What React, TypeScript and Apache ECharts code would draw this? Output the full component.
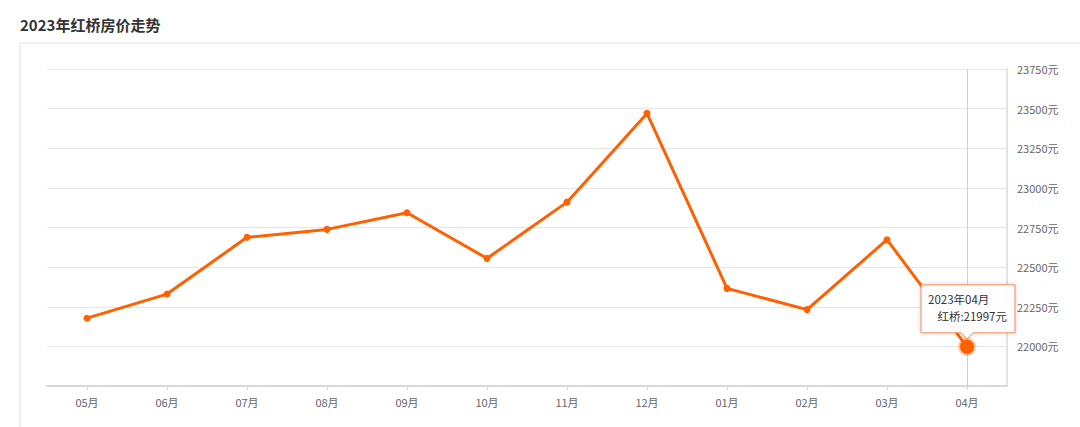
import React, { useEffect, useRef } from "react";
import * as echarts from "echarts";

const titleText = "2023年红桥房价走势";
const seriesName = "红桥";
const year = "2023";
const months = ["05月", "06月", "07月", "08月", "09月", "10月", "11月", "12月", "01月", "02月", "03月", "04月"];
const prices = [22178, 22330, 22688, 22738, 22843, 22555, 22910, 23470, 22366, 22232, 22673, 21997];
const yMin = 21750;
const yMax = 23750;
const yInterval = 250;
const unit = "元";
const highlightIndex = 11;

const ORANGE = "#ff6000";
const FONT = "'Noto Sans CJK SC', 'Noto Sans', sans-serif";

export default function App() {
  const ref = useRef<HTMLDivElement>(null);
  useEffect(() => {
    if (!ref.current) return;
    const chart = echarts.init(ref.current, null, { renderer: "svg" });
    const data = prices.map((v, i) =>
      i === highlightIndex
        ? {
            value: v,
            symbolSize: 14,
            itemStyle: { color: ORANGE, borderColor: "rgba(255,96,0,0.35)", borderWidth: 4 },
          }
        : v
    );
    chart.setOption({
      animation: false,
      textStyle: { fontFamily: FONT },
      title: {
        text: titleText,
        left: 15,
        top: 12,
        textStyle: { fontSize: 15, fontWeight: "bold", color: "#333", fontFamily: FONT },
      },
      grid: { left: 47, right: 73, top: 69, bottom: 41, containLabel: false },
      xAxis: {
        type: "category",
        data: months,
        boundaryGap: true,
        axisLine: { show: true, lineStyle: { color: "#d9d9d9", width: 2 } },
        axisTick: { show: true, alignWithLabel: true, length: 4, lineStyle: { color: "#d9d9d9" } },
        axisLabel: { color: "#666", fontSize: 11, margin: 10, fontFamily: FONT },
        splitLine: { show: false },
      },
      yAxis: {
        type: "value",
        position: "right",
        min: yMin,
        max: yMax,
        interval: yInterval,
        axisLine: { show: true, lineStyle: { color: "#e3e3e3", width: 2 } },
        axisTick: { show: false },
        axisLabel: {
          color: "#666",
          fontSize: 11,
          margin: 10,
          showMinLabel: false,
          fontFamily: FONT,
          formatter: (v: number) => `${v}${unit}`,
        },
        splitLine: { show: true, lineStyle: { color: "#e6e6e6", width: 1 } },
      },
      series: [
        {
          name: seriesName,
          type: "line",
          data,
          symbol: "circle",
          symbolSize: 7,
          showAllSymbol: true,
          itemStyle: { color: ORANGE },
          lineStyle: { color: ORANGE, width: 3 },
          z: 3,
          markLine: {
            silent: true,
            symbol: "none",
            label: { show: false },
            lineStyle: { color: "#cfcfcf", type: "solid", width: 1 },
            data: [{ xAxis: months[highlightIndex] }],
            z: 1,
          },
        },
      ],
    });

    const pt = chart.convertToPixel({ seriesIndex: 0 }, [months[highlightIndex], prices[highlightIndex]]) as number[];
    const px = pt[0];
    const py = pt[1];
    const L = px - 46;
    const R = px + 48;
    const T = py - 62;
    const B = py - 14;
    const tip = py - 8;
    chart.setOption({
      graphic: [
        {
          type: "rect",
          z: -10,
          silent: true,
          shape: { x: 20, y: 43, width: 1200, height: 600 },
          style: { fill: "none", stroke: "#f0f0f0", lineWidth: 2 },
        },
        {
          type: "polygon",
          z: 100,
          silent: true,
          shape: {
            points: [
              [L, T],
              [R, T],
              [R, B],
              [px + 6, B],
              [px, tip],
              [px - 6, B],
              [L, B],
            ],
          },
          style: {
            fill: "rgba(255,255,255,0.95)",
            stroke: "#f4894f",
            lineWidth: 1,
            shadowBlur: 4,
            shadowColor: "rgba(0,0,0,0.18)",
          },
        },
        {
          type: "text",
          z: 101,
          silent: true,
          x: L + 7,
          y: T + 14,
          style: {
            text: `${year}年${months[highlightIndex]}`,
            fill: "#333",
            fontSize: 11.5,
            fontFamily: FONT,
            textVerticalAlign: "middle",
            textAlign: "left",
          },
        },
        {
          type: "text",
          z: 101,
          silent: true,
          x: R - 8,
          y: T + 31,
          style: {
            text: `${seriesName}:${prices[highlightIndex]}${unit}`,
            fill: "#333",
            fontSize: 11.5,
            fontFamily: FONT,
            textVerticalAlign: "middle",
            textAlign: "right",
          },
        },
      ],
    });

    return () => chart.dispose();
  }, []);
  return (
    <div
      ref={ref}
      style={{ position: "fixed", left: 0, top: 0, width: 1080, height: 427, background: "#fff" }}
    />
  );
}
